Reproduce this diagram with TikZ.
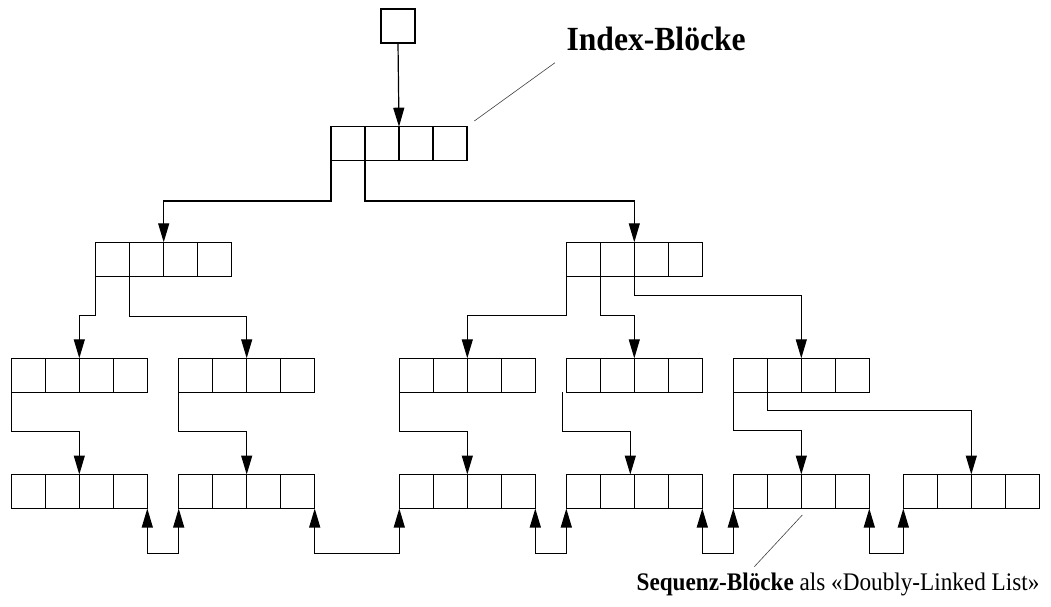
\documentclass[tikz,border=0pt]{standalone}
\usepackage{fontspec}
\setmainfont{Liberation Serif}
\usetikzlibrary{arrows.meta}
\begin{document}
\begin{tikzpicture}[x=1pt,y=-1pt,line width=1.2pt,
  cellbox/.style={draw,line width=1.2pt,minimum width=34pt,minimum height=34pt,
    inner sep=0pt,outer sep=0pt,anchor=north west},
  blk/.style={draw,line width=1.2pt,minimum width=136pt,minimum height=34pt,
    inner sep=0pt,outer sep=0pt,anchor=north west,
    path picture={\foreach \k in {1,2,3}{\draw[line width=1.2pt]
      ([xshift=\k*34pt]path picture bounding box.south west) --
      ([xshift=\k*34pt]path picture bounding box.north west);}}},
  ptr/.style={-{Triangle[length=19pt,width=11pt]}},
  dlink/.style={{Triangle[length=19pt,width=11pt]}-{Triangle[length=19pt,width=11pt]}},
  leader/.style={line width=0.6pt,draw=black!75},
  lbl/.style={anchor=base west,inner sep=0pt}]
\useasboundingbox (0,0) rectangle (1051,607);

% root pointer and index blocks
\node[cellbox] (root) at (381,9) {};
\node[blk] (i0) at (331,126.7) {};
\node[blk] (a) at (95.7,242.3) {};
\node[blk] (b) at (566.3,242.3) {};

% leaf index level
\node[blk] (c1) at (11.3,358.3) {};
\node[blk] (c2) at (178.7,358.3) {};
\node[blk] (c3) at (399.3,358.3) {};
\node[blk] (c4) at (566.3,358.3) {};
\node[blk] (c5) at (733.3,358.3) {};

% sequence blocks
\node[blk] (d1) at (11.3,474.5) {};
\node[blk] (d2) at (178.7,474.5) {};
\node[blk] (d3) at (399.3,474.5) {};
\node[blk] (d4) at (566.3,474.5) {};
\node[blk] (d5) at (733.3,474.5) {};
\node[blk] (d6) at (903.3,474.5) {};

% pointers down the tree
\draw[ptr] (root.south) -- ([xshift=68pt]i0.north west);
\draw[ptr] (i0.south west) -- ++(0,40.3) -| ([xshift=68pt]a.north west);
\draw[ptr] ([xshift=34pt]i0.south west) -- ++(0,40.3) -| ([xshift=68pt]b.north west);

\draw[ptr] (a.south west) -- ++(0,39.4) -| ([xshift=68pt]c1.north west);
\draw[ptr] ([xshift=34pt]a.south west) -- ++(0,40.4) -| ([xshift=68pt]c2.north west);
\draw[ptr] (b.south west) -- ++(0,39.4) -| ([xshift=68pt]c3.north west);
\draw[ptr] ([xshift=34pt]b.south west) -- ++(0,39.4) -| ([xshift=68pt]c4.north west);
\draw[ptr] ([xshift=68pt]b.south west) -- ++(0,19) -| ([xshift=68pt]c5.north west);

\draw[ptr] (c1.south west) -- ++(0,39) -| ([xshift=68pt]d1.north west);
\draw[ptr] (c2.south west) -- ++(0,39) -| ([xshift=68pt]d2.north west);
\draw[ptr] (c3.south west) -- ++(0,39) -| ([xshift=68pt]d3.north west);
\draw[ptr] ([xshift=-4pt]c4.south west) -- ++(0,39) -| ([xshift=64pt]d4.north west);
\draw[ptr] (c5.south west) -- ++(0,38.4) -| ([xshift=68pt]d5.north west);
\draw[ptr] ([xshift=34pt]c5.south west) -- ++(0,18) -| ([xshift=68pt]d6.north west);

% doubly linked sequence
\draw[dlink] (d1.south east) -- ++(0,44.8) -| (d2.south west);
\draw[dlink] (d2.south east) -- ++(0,44.8) -| (d3.south west);
\draw[dlink] (d3.south east) -- ++(0,44.8) -| (d4.south west);
\draw[dlink] (d4.south east) -- ++(0,44.8) -| (d5.south west);
\draw[dlink] (d5.south east) -- ++(0,44.8) -| (d6.south west);

% labels with leader lines
\node[lbl,font=\fontsize{31.6}{36}\selectfont\bfseries] (idx) at (566,50.7)
  {\scalebox{1}[1.07]{Index-Blöcke}};
\node[lbl,font=\fontsize{23.2}{27}\selectfont] (seq) at (636,590.7)
  {\scalebox{1}[1.09]{\textbf{Sequenz-Blöcke} als «Doubly-Linked List»}};
\coordinate (idxa) at (555,62.7);
\coordinate (idxb) at (474.3,121);
\coordinate (seqa) at (754.3,566.7);
\coordinate (seqb) at (802.3,515);
\draw[leader] (idxa) -- (idxb);
\draw[leader] (seqa) -- (seqb);
\end{tikzpicture}
\end{document}
